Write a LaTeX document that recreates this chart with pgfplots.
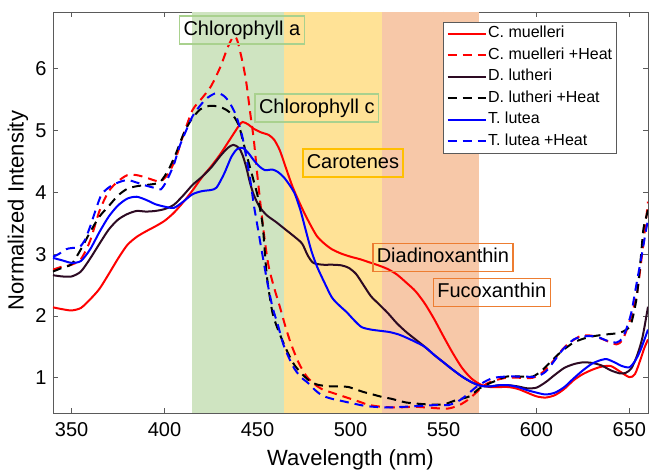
\documentclass[border=0pt]{standalone}
\usepackage{fontspec}
\setmainfont{Liberation Sans}
\usepackage{pgfplots}
\usepackage{pgfplotstable}
\pgfplotsset{compat=1.18}

\definecolor{bandGreen}{RGB}{207,228,193}
\definecolor{bandYellow}{RGB}{255,226,150}
\definecolor{bandOrange}{RGB}{247,200,168}
\definecolor{boxGreen}{RGB}{169,209,142}
\definecolor{boxGold}{RGB}{255,192,0}
\definecolor{boxOrange}{RGB}{237,125,49}
\definecolor{lutheri}{RGB}{45,10,35}
\definecolor{axisgray}{RGB}{90,90,90}

% wavelength (nm)  normalized intensity
\pgfplotstableread{
x y
340 2.14
345 2.11
350 2.09
355 2.13
360 2.27
365 2.44
370 2.68
375 2.93
380 3.15
385 3.28
390 3.37
395 3.45
400 3.54
405 3.67
410 3.84
415 4.03
420 4.24
425 4.42
430 4.62
435 4.85
440 5.08
442 5.14
445 5.10
448 5.03
452 4.97
456 4.93
459 4.85
462 4.68
465 4.42
469 4.08
474 3.74
478 3.50
482 3.29
486 3.17
490 3.08
495 3.01
500 2.96
505 2.92
510 2.87
515 2.82
520 2.76
525 2.67
530 2.54
535 2.40
540 2.20
545 1.95
550 1.67
555 1.40
560 1.16
565 0.99
570 0.89
575 0.85
580 0.85
585 0.85
590 0.82
595 0.76
600 0.70
605 0.68
610 0.72
615 0.82
620 0.96
625 1.06
630 1.13
635 1.18
640 1.19
645 1.10
650 1.01
653 1.06
656 1.30
658 1.48
660 1.62
}\muelleri

\pgfplotstableread{
x y
340 2.75
345 2.80
350 2.83
355 2.92
360 3.22
365 3.70
370 4.02
375 4.18
380 4.28
385 4.28
390 4.24
395 4.19
398 4.18
402 4.30
406 4.55
410 4.92
415 5.33
420 5.52
425 5.72
430 6.03
434 6.35
437 6.52
439 6.47
442 6.10
444 5.77
446 5.30
448 4.85
450 4.25
452 3.70
454 3.20
456 2.80
459 2.45
462 2.15
465 1.83
468 1.55
472 1.25
476 1.04
480 0.91
485 0.81
490 0.76
495 0.71
500 0.66
505 0.61
510 0.56
517 0.53
525 0.52
535 0.53
545 0.51
552 0.50
558 0.55
563 0.64
568 0.77
573 0.90
578 0.96
584 1.00
592 1.00
598 1.00
603 1.08
609 1.27
614 1.46
618 1.57
624 1.68
630 1.68
636 1.62
643 1.54
646 1.60
648 1.73
651 2.00
654 2.35
656 2.80
658 3.30
660 3.85
}\muelleriHeat

\pgfplotstableread{
x y
340 2.66
345 2.64
350 2.64
355 2.72
360 2.93
365 3.17
370 3.40
375 3.56
380 3.65
385 3.70
390 3.69
395 3.70
400 3.73
405 3.80
410 3.95
415 4.12
420 4.25
425 4.40
430 4.59
434 4.72
437 4.77
440 4.72
442 4.60
444 4.40
446 4.15
448 3.96
451 3.77
455 3.63
460 3.52
465 3.40
470 3.28
474 3.17
477 2.98
480 2.86
485 2.83
490 2.83
495 2.82
499 2.78
503 2.68
507 2.50
511 2.32
515 2.20
520 2.05
525 1.88
530 1.74
535 1.62
540 1.50
545 1.37
550 1.25
555 1.13
560 1.02
565 0.93
570 0.87
575 0.86
580 0.88
585 0.88
590 0.86
595 0.83
600 0.84
605 0.93
610 1.05
615 1.16
620 1.22
625 1.25
630 1.24
635 1.20
640 1.12
645 1.07
648 1.08
651 1.15
654 1.35
657 1.65
660 2.15
}\lutheriData

\pgfplotstableread{
x y
340 2.72
345 2.78
350 2.84
355 3.08
360 3.36
365 3.61
370 3.78
375 3.95
380 4.06
385 4.10
390 4.12
395 4.14
398 4.18
402 4.36
406 4.62
410 4.93
414 5.16
419 5.34
424 5.40
429 5.39
433 5.34
437 5.24
440 5.08
442 4.85
444 4.62
446 4.40
448 4.18
450 3.95
452 3.62
453 3.40
455 2.65
458 2.06
461 1.78
464 1.56
467 1.36
470 1.20
474 1.06
478 0.95
482 0.89
486 0.87
490 0.86
495 0.86
499 0.85
503 0.81
507 0.77
512 0.73
517 0.69
522 0.66
530 0.60
541 0.57
550 0.57
556 0.63
564 0.70
569 0.82
574 0.90
578 0.95
584 1.02
592 1.02
598 1.02
603 1.12
609 1.30
614 1.44
620 1.57
625 1.63
630 1.67
637 1.70
645 1.73
650 1.82
652 2.00
654 2.32
656 2.90
657.5 3.40
659 3.60
660 3.72
}\lutheriHeat

\pgfplotstableread{
x y
340 2.94
345 2.90
350 2.86
355 2.89
360 3.08
365 3.36
370 3.61
375 3.79
380 3.90
385 3.93
390 3.88
395 3.81
400 3.77
405 3.75
410 3.85
415 3.97
420 4.02
425 4.04
428 4.08
432 4.30
436 4.58
439 4.70
442 4.72
445 4.64
448 4.52
451 4.42
454 4.36
458 4.37
461 4.33
464 4.25
467 4.13
470 3.98
473 3.72
476 3.38
479 3.05
482 2.80
486 2.54
490 2.30
494 2.17
498 2.06
502 1.93
506 1.82
511 1.78
516 1.76
521 1.74
526 1.70
530 1.65
535 1.58
540 1.50
545 1.37
550 1.25
555 1.13
560 1.02
565 0.93
570 0.87
575 0.86
580 0.88
585 0.88
590 0.85
595 0.80
600 0.76
605 0.73
610 0.76
615 0.85
620 0.99
625 1.12
630 1.23
635 1.29
638 1.30
642 1.25
646 1.19
650 1.17
653 1.27
656 1.45
660 1.78
}\lutea

\pgfplotstableread{
x y
340 2.96
343 3.00
347 3.08
350 3.10
354 3.11
357 3.22
360 3.45
363 3.72
366 3.96
370 4.08
375 4.16
380 4.20
385 4.16
390 4.11
395 4.07
398 4.05
401 4.18
405 4.45
408 4.74
412 5.03
415 5.23
419 5.40
423 5.53
428 5.61
432 5.56
435 5.45
438 5.28
440 5.10
442 4.88
444 4.56
446 4.22
448 3.80
450 3.45
452 3.10
455 2.59
458 2.15
461 1.85
464 1.53
469 1.19
473 1.02
477 0.92
481 0.80
485 0.71
490 0.66
496 0.62
502 0.58
509 0.54
520 0.52
535 0.54
547 0.56
553 0.56
559 0.64
564 0.76
568 0.86
573 0.95
577 1.00
584 1.02
592 1.02
600 1.02
605 1.10
609 1.25
614 1.45
620 1.62
626 1.67
632 1.67
638 1.60
643 1.57
646 1.63
648 1.76
651 2.05
654 2.55
657 3.05
659 3.40
660 3.55
}\luteaHeat

\begin{document}
\begin{tikzpicture}
\begin{axis}[
  scale only axis,
  width=595bp, height=401bp,
  xmin=340, xmax=660, ymin=0.43, ymax=6.92,
  xtick={350,400,...,650}, ytick={1,2,...,6},
  tick align=inside,
  major tick length=5bp,
  axis line style={draw=axisgray, line width=0.9bp},
  every tick/.style={axisgray, line width=0.9bp},
  /pgf/number format/assume math mode=true,
  ticklabel style={font=\fontsize{20bp}{24bp}\selectfont},
  xticklabel style={yshift=-6bp},
  yticklabel style={xshift=-3bp},
  xlabel={Wavelength (nm)},
  ylabel={Normalized Intensity},
  label style={font=\fontsize{22bp}{26bp}\selectfont},
  xlabel style={at={(axis description cs:0.5,-0.117)}, anchor=center},
  ylabel style={at={(axis description cs:-0.059,0.505)}, anchor=center},
  legend cell align=left,
  legend style={
    at={(0.948,0.975)}, anchor=north east,
    draw=axisgray, line width=0.8bp, fill=white,
    font=\fontsize{16bp}{19bp}\selectfont,
    inner xsep=3bp, inner ysep=2bp,
    row sep=2.5bp,
    nodes={inner sep=1.5bp, text height=12bp, text depth=4bp},
  },
  legend image code/.code={\draw[#1] (0bp,0bp) -- (38bp,0bp);},
  every axis plot/.append style={line width=2bp, smooth, tension=0.45},
  clip=true,
]
% pigment absorption bands
\addplot[fill=bandGreen, draw=none, forget plot, sharp plot] coordinates {(415,0.43) (464,0.43) (464,6.92) (415,6.92)} -- cycle;
\addplot[fill=bandYellow, draw=none, forget plot, sharp plot] coordinates {(464,0.43) (517,0.43) (517,6.92) (464,6.92)} -- cycle;
\addplot[fill=bandOrange, draw=none, forget plot, sharp plot] coordinates {(517,0.43) (569,0.43) (569,6.92) (517,6.92)} -- cycle;

\addplot[red] table {\muelleri};
\addlegendentry{C. muelleri}
\addplot[red, dash pattern=on 9bp off 6bp] table {\muelleriHeat};
\addlegendentry{C. muelleri +Heat}
\addplot[lutheri] table {\lutheriData};
\addlegendentry{D. lutheri}
\addplot[black, dash pattern=on 9bp off 6bp] table {\lutheriHeat};
\addlegendentry{D. lutheri +Heat}
\addplot[blue] table {\lutea};
\addlegendentry{T. lutea}
\addplot[blue, dash pattern=on 9bp off 6bp] table {\luteaHeat};
\addlegendentry{T. lutea +Heat}

\begin{scope}[every node/.style={font=\fontsize{20bp}{24bp}\selectfont, line width=1.5bp, inner xsep=4bp, minimum height=28bp, text height=14.5bp, text depth=4bp}]
\node[draw=boxGreen] at (axis cs:441.6,6.63) {Chlorophyll a};
\node[draw=boxGreen] at (axis cs:481.9,5.37) {Chlorophyll c};
\node[draw=boxGold] at (axis cs:501.3,4.48) {Carotenes};
\node[draw=boxOrange] at (axis cs:549.7,2.95) {Diadinoxanthin};
\node[draw=boxOrange] at (axis cs:576.0,2.38) {Fucoxanthin};
\end{scope}
\end{axis}
\pgfresetboundingbox
\path ([xshift=-53bp,yshift=-61bp]current axis.south west) rectangle ([xshift=1bp,yshift=12bp]current axis.north east);
\end{tikzpicture}
\end{document}
